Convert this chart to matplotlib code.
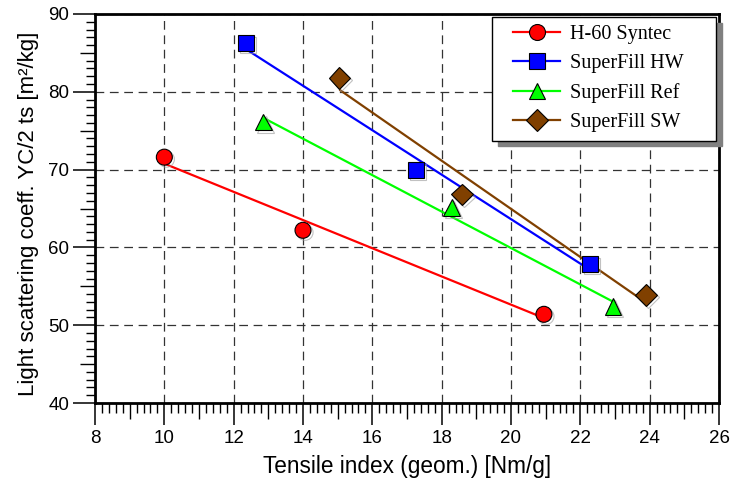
import numpy as np
import matplotlib
matplotlib.use("Agg")
import matplotlib.pyplot as plt
from matplotlib.ticker import MultipleLocator, FixedLocator, NullFormatter
from matplotlib.legend_handler import HandlerLine2D
from matplotlib.lines import Line2D
import matplotlib.patheffects as pe

# ---- data ----
series_names = ["H-60 Syntec", "SuperFill HW", "SuperFill Ref", "SuperFill SW"]
h60_x = [10.0, 14.0, 20.95]
h60_y = [71.6, 62.2, 51.4]
hw_x = [12.35, 17.25, 22.28]
hw_y = [86.3, 69.9, 57.9]
ref_x = [12.86, 18.29, 22.94]
ref_y = [76.1, 65.1, 52.4]
sw_x = [15.05, 18.58, 23.9]
sw_y = [81.8, 66.8, 53.9]
xs = [h60_x, hw_x, ref_x, sw_x]
ys = [h60_y, hw_y, ref_y, sw_y]
colors = ["#FF0000", "#0000FF", "#00FF00", "#804000"]
markers = ["o", "s", "^", "D"]
msizes = [11.5, 11.5, 12, 11]

x_label = "Tensile index (geom.) [Nm/g]"
y_label = "Light scattering coeff. YC/2 ts [m\u00b2/kg]"

plt.rcParams['font.family'] = ['Liberation Sans', 'DejaVu Sans']

fig = plt.figure(figsize=(7.31, 4.86), dpi=100)
ax = fig.add_axes([95/731, 1-403/486, (719-95)/731, (403-14)/486])

handles = []
for i in range(4):
    x = np.array(xs[i]); y = np.array(ys[i])
    k, b = np.polyfit(x, y, 1)
    xl = np.array([x.min(), x.max()])
    ax.plot(xl, k*xl + b, color=colors[i], lw=1.6, zorder=3, solid_capstyle='butt')
    ax.plot(x, y, linestyle='none', marker=markers[i], ms=msizes[i], mfc=colors[i],
            mec='black', mew=0.8, zorder=4,
            path_effects=[pe.SimpleLineShadow(offset=(1.5, -1.5), shadow_color='0.6', alpha=0.6), pe.Normal()])
    h = Line2D([], [], color=colors[i], lw=1.6, marker=markers[i], ms=msizes[i],
               mfc=colors[i], mec='black', mew=0.8)
    handles.append(h)

ax.set_xlim(8, 26)
ax.set_ylim(40, 90)
ax.xaxis.set_major_locator(MultipleLocator(2))
ax.yaxis.set_major_locator(MultipleLocator(10))
xminor = [v for v in np.round(np.arange(8, 26.001, 0.2), 1) if abs(v - round(v)) > 1e-6]
ax.xaxis.set_minor_locator(FixedLocator(xminor))
yminor = [v for v in range(40, 91) if v % 5 != 0]
ax.yaxis.set_minor_locator(FixedLocator(yminor))

ax.tick_params(which='major', direction='out', length=15.5, width=1.1, labelsize=13.5, pad=3)
ax.tick_params(axis='x', which='major', pad=4)
ax.tick_params(which='minor', direction='out', length=7, width=1.0)
ax.tick_params(axis='y', which='minor', length=6.5)

# medium ticks
secx = ax.secondary_xaxis('bottom')
secx.set_xticks(list(range(9, 26, 2)))
secx.xaxis.set_major_formatter(NullFormatter())
secx.tick_params(length=11.5, width=1.0, direction='out')
secx.spines['bottom'].set_visible(False)
secy = ax.secondary_yaxis('left')
secy.set_yticks([45, 55, 65, 75, 85])
secy.yaxis.set_major_formatter(NullFormatter())
secy.tick_params(length=10.5, width=1.0, direction='out')
secy.spines['left'].set_visible(False)

for s in ax.spines.values():
    s.set_linewidth(2.0)

ax.grid(True, which='major', color='#333333', linestyle=(0, (7, 4.5)), linewidth=0.9)
ax.set_axisbelow(True)

ax.set_xlabel(x_label, fontsize=16.3, labelpad=6)
ax.set_ylabel(y_label, fontsize=16.0, labelpad=5)
ax.yaxis.set_label_coords(-0.09, 0.487)

x0 = (492 - 95) / 624
x1 = (716 - 95) / 624
y1 = (403 - 17) / 389
y0 = (403 - 140) / 389
leg = ax.legend(handles, series_names, loc='upper left',
                bbox_to_anchor=(x0, y0, x1 - x0, y1 - y0), mode='expand',
                borderaxespad=0.0, prop={'family': 'Liberation Serif', 'size': 14.5},
                frameon=True, fancybox=False, edgecolor='black', framealpha=1,
                handlelength=2.98, handletextpad=0.5, labelspacing=0.5, borderpad=0.4,
                handler_map={Line2D: HandlerLine2D(xpad=0.65)},
                shadow={'ox': 4, 'oy': -4, 'color': '0.5', 'alpha': 1})
leg.get_frame().set_linewidth(1.0)
leg.set_zorder(10)

fig.savefig("out.png", dpi=100)
